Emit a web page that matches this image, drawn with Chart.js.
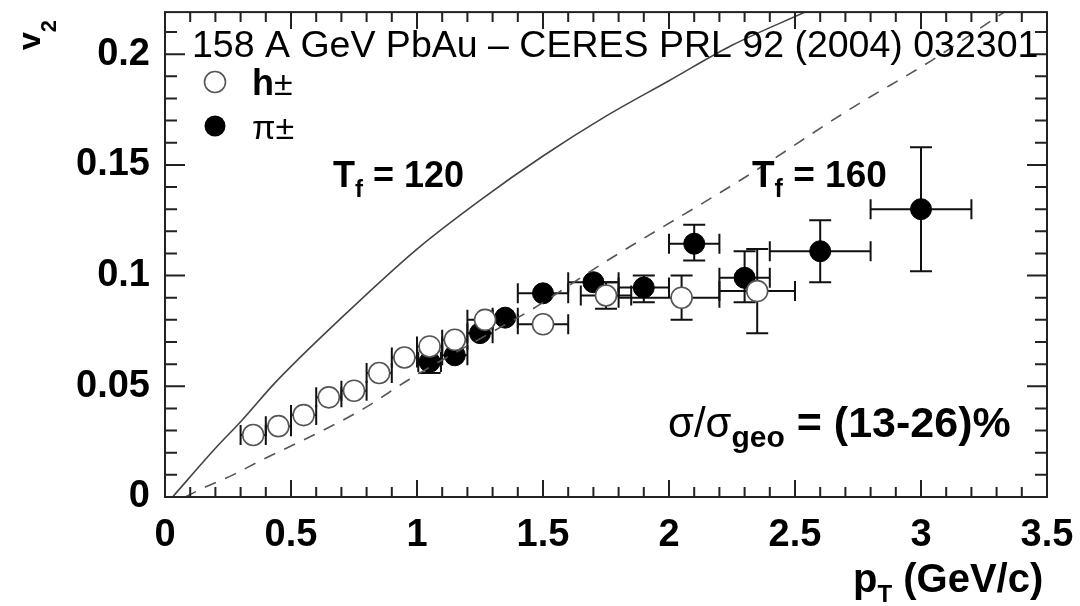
<!DOCTYPE html>
<html>
<head>
<meta charset="utf-8">
<script src="https://cdn.jsdelivr.net/npm/chart.js@4.4.1/dist/chart.umd.min.js"></script>
<style>
  html, body { margin: 0; padding: 0; background: #fff; }
  #wrap { width: 1080px; height: 606px; }
</style>
</head>
<body>
<div id="wrap"><canvas id="v2-chart" width="1080" height="606"></canvas></div>
<script>
// axis ticks
const xTickValues = [0, 0.5, 1, 1.5, 2, 2.5, 3, 3.5];
const yTickValues = [0, 0.05, 0.1, 0.15, 0.2];

// h+- (open circles)
const hPt = [0.35, 0.45, 0.55, 0.65, 0.75, 0.85, 0.95, 1.05, 1.15, 1.27, 1.5, 1.75, 2.05, 2.35];
const hV2 = [0.028, 0.032, 0.037, 0.045, 0.048, 0.056, 0.063, 0.068, 0.071, 0.080, 0.078, 0.091, 0.090, 0.093];
const hPtErrLo = [0.05, 0.05, 0.05, 0.05, 0.05, 0.05, 0.05, 0.05, 0.05, 0.07, 0.1, 0.1, 0.25, 0.15];
const hPtErrHi = [0.05, 0.05, 0.05, 0.05, 0.05, 0.05, 0.05, 0.05, 0.05, 0.03, 0.1, 0.1, 0.15, 0.15];
const hV2ErrLo = [0.002, 0.002, 0.002, 0.002, 0.002, 0.002, 0.002, 0.002, 0.002, 0.003, 0.003, 0.006, 0.010, 0.019];
const hV2ErrHi = [0.002, 0.002, 0.002, 0.002, 0.002, 0.002, 0.002, 0.002, 0.002, 0.003, 0.003, 0.006, 0.010, 0.019];

// pi+- (filled circles)
const piPt = [1.05, 1.15, 1.25, 1.35, 1.5, 1.7, 1.9, 2.1, 2.3, 2.6, 3.0];
const piV2 = [0.061, 0.064, 0.074, 0.081, 0.092, 0.097, 0.0946, 0.1144, 0.099, 0.111, 0.130];
const piPtErrLo = [0.045, 0.05, 0.05, 0.05, 0.1, 0.1, 0.1, 0.1, 0.1, 0.2, 0.2];
const piPtErrHi = [0.045, 0.05, 0.05, 0.05, 0.1, 0.1, 0.1, 0.1, 0.1, 0.2, 0.2];
const piV2ErrLo = [0.005, 0.004, 0.004, 0.003, 0.003, 0.003, 0.0066, 0.0076, 0.011, 0.014, 0.028];
const piV2ErrHi = [0.005, 0.004, 0.004, 0.003, 0.003, 0.003, 0.0054, 0.0086, 0.012, 0.014, 0.028];

// hydro curves
const tf120Pt = [0.03, 0.20, 0.30, 0.44, 0.71, 1.00, 1.25, 1.50, 1.75, 2.00, 2.25, 2.54];
const tf120V2 = [0.0, 0.022, 0.034, 0.052, 0.082, 0.112, 0.134, 0.154, 0.172, 0.188, 0.204, 0.219];
const tf160Pt = [0.08, 0.16, 0.27, 0.38, 0.59, 0.79, 0.97, 1.33, 1.46, 1.73, 2.31, 2.73, 3.04, 3.33];
const tf160V2 = [0.0, 0.0045, 0.010, 0.0165, 0.028, 0.040, 0.0532, 0.0766, 0.085, 0.105, 0.145, 0.176, 0.197, 0.219];

const FONT = '"Liberation Sans", Arial, Helvetica, sans-serif';

function toPoints(xs, ys) {
    return xs.map((x, i) => ({ x: x, y: ys[i] }));
}

// error bars drawn through the scales, under the markers
const errorBars = {
    id: 'errorBars',
    beforeDatasetsDraw(chart) {
        const ctx = chart.ctx;
        const xs = chart.scales.x, ys = chart.scales.y;
        const sets = [
            [hPt, hV2, hPtErrLo, hPtErrHi, hV2ErrLo, hV2ErrHi],
            [piPt, piV2, piPtErrLo, piPtErrHi, piV2ErrLo, piV2ErrHi]
        ];
        ctx.save();
        ctx.strokeStyle = '#111';
        ctx.lineWidth = 2;
        const cap = 10;
        sets.forEach(([px, py, xl, xh, yl, yh]) => {
            px.forEach((x, i) => {
                const cx = xs.getPixelForValue(x), cy = ys.getPixelForValue(py[i]);
                const x0 = xs.getPixelForValue(x - xl[i]), x1 = xs.getPixelForValue(x + xh[i]);
                const y0 = ys.getPixelForValue(py[i] - yl[i]), y1 = ys.getPixelForValue(py[i] + yh[i]);
                ctx.beginPath();
                ctx.moveTo(x0, cy); ctx.lineTo(x1, cy);
                ctx.moveTo(x0, cy - cap); ctx.lineTo(x0, cy + cap);
                ctx.moveTo(x1, cy - cap); ctx.lineTo(x1, cy + cap);
                ctx.moveTo(cx, y0); ctx.lineTo(cx, y1);
                if (yl[i] > 0.004) {
                    ctx.moveTo(cx - cap - 1, y0); ctx.lineTo(cx + cap + 1, y0);
                    ctx.moveTo(cx - cap - 1, y1); ctx.lineTo(cx + cap + 1, y1);
                }
                ctx.stroke();
            });
        });
        ctx.restore();
    }
};

// text pieces: [string, size, bold, dy]
function drawRuns(ctx, x, y, runs) {
    runs.forEach(([s, size, bold, dy]) => {
        ctx.font = (bold ? 'bold ' : '') + size + 'px ' + FONT;
        ctx.fillText(s, x, y + (dy || 0));
        x += ctx.measureText(s).width;
    });
}

// frame, inward ticks, labels and legend
const decorations = {
    id: 'decorations',
    afterDraw(chart) {
        const ctx = chart.ctx;
        const a = chart.chartArea;
        const xs = chart.scales.x, ys = chart.scales.y;
        ctx.save();
        ctx.strokeStyle = '#222';
        ctx.lineWidth = 2;
        ctx.strokeRect(a.left, a.top, a.right - a.left, a.bottom - a.top);

        ctx.beginPath();
        for (let i = 0; i <= 35; i++) {
            const px = xs.getPixelForValue(i / 10);
            const len = i % 5 === 0 ? 17 : 10;
            ctx.moveTo(px, a.bottom); ctx.lineTo(px, a.bottom - len);
            ctx.moveTo(px, a.top); ctx.lineTo(px, a.top + len);
        }
        for (let i = 0; i <= 21; i++) {
            const py = ys.getPixelForValue(i / 100);
            const len = i % 5 === 0 ? 20 : 12;
            ctx.moveTo(a.left, py); ctx.lineTo(a.left + len, py);
            ctx.moveTo(a.right, py); ctx.lineTo(a.right - len, py);
        }
        ctx.stroke();

        ctx.fillStyle = '#000';
        ctx.textBaseline = 'alphabetic';
        ctx.textAlign = 'left';

        // header
        drawRuns(ctx, 192, 57, [['158 A GeV PbAu \u2013 CERES PRL 92 (2004) 032301', 37.5, false]]);

        // legend
        ctx.beginPath();
        ctx.arc(215, 82, 10.5, 0, Math.PI * 2);
        ctx.fillStyle = '#fff'; ctx.fill();
        ctx.strokeStyle = '#555'; ctx.lineWidth = 1.6; ctx.stroke();
        ctx.beginPath();
        ctx.arc(215, 126, 10.5, 0, Math.PI * 2);
        ctx.fillStyle = '#000'; ctx.fill();
        drawRuns(ctx, 252, 95, [['h', 36, true], ['\u00b1', 34, false]]);
        drawRuns(ctx, 252, 139, [['\u03c0\u00b1', 34, false]]);

        // curve labels
        drawRuns(ctx, 333, 187, [['T', 36, true], ['f', 24, true, 10], [' = 120', 36, true]]);
        drawRuns(ctx, 752, 187, [['T', 37, true], ['f', 25, true, 10], [' = 160', 37, true]]);

        // centrality
        drawRuns(ctx, 668, 437, [['\u03c3/\u03c3', 42, false], ['geo', 30, true, 10], [' = (13-26)%', 43, true]]);

        // axis titles
        drawRuns(ctx, 853, 592, [['p', 40, true], ['T', 24, true, 10], [' (GeV/c)', 40, true]]);
        ctx.translate(40, 50);
        ctx.rotate(-Math.PI / 2);
        drawRuns(ctx, 0, 0, [['v', 32, true], ['2', 22, true, 16]]);
        ctx.restore();
    }
};

const ctx = document.getElementById('v2-chart');
new Chart(ctx, {
    type: 'scatter',
    data: {
        datasets: [
            {
                type: 'line',
                label: 'Tf = 120',
                data: toPoints(tf120Pt, tf120V2),
                borderColor: '#444',
                borderWidth: 1.6,
                pointRadius: 0,
                cubicInterpolationMode: 'monotone',
                fill: false
            },
            {
                type: 'line',
                label: 'Tf = 160',
                data: toPoints(tf160Pt, tf160V2),
                borderColor: '#555',
                borderWidth: 1.6,
                borderDash: [12, 10],
                pointRadius: 0,
                cubicInterpolationMode: 'monotone',
                fill: false
            },
            {
                label: 'h\u00b1',
                data: toPoints(hPt, hV2),
                pointRadius: 10.5,
                pointBackgroundColor: '#fff',
                pointBorderColor: '#555',
                pointBorderWidth: 1.6
            },
            {
                label: '\u03c0\u00b1',
                data: toPoints(piPt, piV2),
                pointRadius: 10.5,
                pointBackgroundColor: '#000',
                pointBorderColor: '#000',
                pointBorderWidth: 1
            }
        ]
    },
    options: {
        responsive: false,
        animation: false,
        layout: { padding: { left: 0, right: 33, top: 11, bottom: 0 } },
        plugins: {
            legend: { display: false },
            tooltip: { enabled: false }
        },
        scales: {
            x: {
                type: 'linear',
                min: 0,
                max: 3.5,
                afterBuildTicks: scale => { scale.ticks = xTickValues.map(v => ({ value: v })); },
                afterFit: scale => {
                    scale.height = 109;
                    scale.paddingLeft = 0; scale.paddingRight = 0;
                },
                grid: { display: false, drawTicks: false },
                border: { display: false },
                ticks: {
                    color: '#000',
                    padding: 16,
                    maxRotation: 0,
                    font: { family: FONT, size: 38, weight: 'bold' },
                    callback: v => String(v)
                }
            },
            y: {
                type: 'linear',
                min: 0,
                max: 0.219,
                afterBuildTicks: scale => { scale.ticks = yTickValues.map(v => ({ value: v })); },
                afterFit: scale => {
                    scale.width = 165;
                    scale.paddingTop = 0; scale.paddingBottom = 0;
                },
                grid: { display: false, drawTicks: false },
                border: { display: false },
                ticks: {
                    color: '#000',
                    padding: 15,
                    font: { family: FONT, size: 38, weight: 'bold' },
                    callback: v => String(v)
                }
            }
        }
    },
    plugins: [errorBars, decorations]
});
</script>
</body>
</html>
